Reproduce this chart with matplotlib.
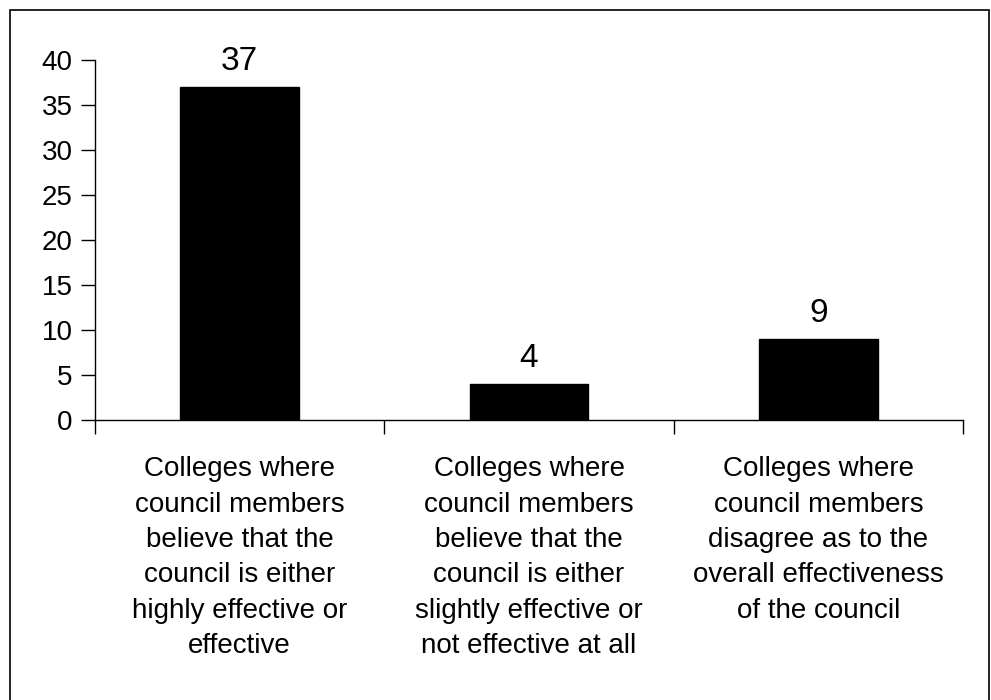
import matplotlib
matplotlib.use("Agg")
import matplotlib.pyplot as plt
from matplotlib.patches import Rectangle

categories = [
    "Colleges where\ncouncil members\nbelieve that the\ncouncil is either\nhighly effective or\neffective",
    "Colleges where\ncouncil members\nbelieve that the\ncouncil is either\nslightly effective or\nnot effective at all",
    "Colleges where\ncouncil members\ndisagree as to the\noverall effectiveness\nof the council",
]
counts = [37, 4, 9]
y_ticks = [0, 5, 10, 15, 20, 25, 30, 35, 40]

plt.rcParams["font.family"] = ["Liberation Sans", "DejaVu Sans"]

fig = plt.figure(figsize=(9.91, 7.0), dpi=100)
ax = fig.add_axes([95 / 991, 280 / 700, 868 / 991, 360 / 700])

x = list(range(len(counts)))
ax.bar(x, counts, width=0.41, color="black", edgecolor="black")
for xi, v in zip(x, counts):
    ax.annotate(str(v), (xi, v), xytext=(0, 12), textcoords="offset points",
                ha="center", va="baseline", fontsize=24)

ax.set_xlim(-0.5, len(counts) - 0.5)
ax.set_ylim(0, 40)
ax.set_yticks(y_ticks)
ax.tick_params(axis="y", direction="out", length=10, width=1, labelsize=20, pad=6)

# category boundaries carry the tick marks, labels sit at the centres
ax.set_xticks([i - 0.5 for i in range(len(counts) + 1)])
ax.set_xticklabels([])
ax.tick_params(axis="x", which="major", direction="out", length=10, width=1)
ax.set_xticks(x, minor=True)
ax.set_xticklabels(categories, minor=True, fontsize=20, linespacing=1.47)
ax.tick_params(axis="x", which="minor", length=0, pad=26)

for s in ("top", "right"):
    ax.spines[s].set_visible(False)
for s in ("left", "bottom"):
    ax.spines[s].set_linewidth(1)

fig.patches.append(Rectangle((10 / 991, -0.01), 979 / 991, 1 - 10 / 700 + 0.01,
                             transform=fig.transFigure, fill=False,
                             edgecolor="black", linewidth=1.2))

fig.savefig("out.png", dpi=100)
